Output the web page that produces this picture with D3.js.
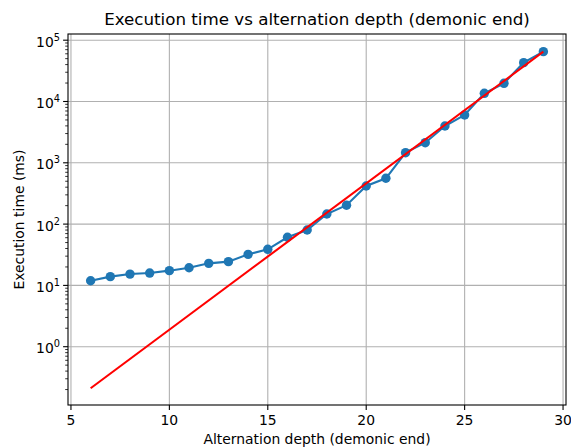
<!DOCTYPE html>
<html><head><meta charset="utf-8">
<script src="https://cdn.jsdelivr.net/npm/d3@7"></script>
<style>body{margin:0;background:#fff}svg{display:block}text{font-family:"DejaVu Sans",sans-serif;fill:#000}</style>
</head><body><svg id="c" width="571" height="448"></svg>
<script>
const depths = [6,7,8,9,10,11,12,13,14,15,16,17,18,19,20,21,22,23,24,25,26,27,28,29];
const times = [11.9,13.9,15.3,15.9,17.4,19.4,22.9,24.4,32.1,38.8,60.9,80.1,146,203,419,559,1462,2128,3980,6025,13600,19800,43000,65000];
const fitX = [6,29];
const fitY = [0.21,65000];
const xTicks = [5,10,15,20,25,30];
const yTickExps = [0,1,2,3,4,5];
const title = "Execution time vs alternation depth (demonic end)";
const xLabel = "Alternation depth (demonic end)";
const yLabel = "Execution time (ms)";

const svg = d3.select("#c");
const L=68, R=566, T=34, B=405;
const x = d3.scaleLinear().domain([4.85,30.15]).range([L,R]);
const y = d3.scaleLog().domain([Math.pow(10,-0.951),Math.pow(10,5.101)]).range([B,T]);

const g = svg.append("g");
// grid
g.selectAll(".gx").data(xTicks).join("line")
  .attr("x1",d=>x(d)).attr("x2",d=>x(d)).attr("y1",T).attr("y2",B)
  .attr("stroke","#b0b0b0").attr("stroke-width",1.1);
g.selectAll(".gy").data(yTickExps).join("line")
  .attr("y1",d=>y(Math.pow(10,d))).attr("y2",d=>y(Math.pow(10,d))).attr("x1",L).attr("x2",R)
  .attr("stroke","#b0b0b0").attr("stroke-width",1.1);

// data line
const line = d3.line().x(d=>x(d[0])).y(d=>y(d[1]));
const pts = depths.map((d,i)=>[d,times[i]]);
g.append("path").datum(pts).attr("d",line).attr("fill","none").attr("stroke","#1f77b4").attr("stroke-width",2.08);
g.selectAll(".pt").data(pts).join("circle").attr("cx",d=>x(d[0])).attr("cy",d=>y(d[1])).attr("r",4.7).attr("fill","#1f77b4");
// fit line
g.append("path").datum(fitX.map((d,i)=>[d,fitY[i]])).attr("d",line).attr("fill","none").attr("stroke","#ff0000").attr("stroke-width",2.08);

// spines
g.append("rect").attr("x",L).attr("y",T).attr("width",R-L).attr("height",B-T).attr("fill","none").attr("stroke","#000").attr("stroke-width",1.1);

// x axis ticks
xTicks.forEach(t=>{
  g.append("line").attr("x1",x(t)).attr("x2",x(t)).attr("y1",B).attr("y2",B+4.9).attr("stroke","#000").attr("stroke-width",1.1);
  g.append("text").attr("x",x(t)).attr("y",B+20).attr("text-anchor","middle").attr("font-size",13.9).text(t);
});
// y ticks major
yTickExps.forEach(e=>{
  const yy=y(Math.pow(10,e));
  g.append("line").attr("x1",L-4.9).attr("x2",L).attr("y1",yy).attr("y2",yy).attr("stroke","#000").attr("stroke-width",1.1);
  const tx=g.append("text").attr("x",L-8).attr("y",yy+6.5).attr("text-anchor","end").attr("font-size",13.9);
  tx.append("tspan").text("10");
  tx.append("tspan").attr("font-size",9.8).attr("dy",-6).text(e);
});
// minor ticks
const [d0,d1]=y.domain();
for(let e=-1;e<=5;e++){for(let m=2;m<=9;m++){const v=m*Math.pow(10,e); if(v>=d0&&v<=d1){const yy=y(v);
  g.append("line").attr("x1",L-2.8).attr("x2",L).attr("y1",yy).attr("y2",yy).attr("stroke","#000").attr("stroke-width",0.8);}}}

// labels
svg.append("text").attr("x",(L+R)/2).attr("y",25).attr("text-anchor","middle").attr("font-size",16.7).text(title);
svg.append("text").attr("x",(L+R)/2).attr("y",444).attr("text-anchor","middle").attr("font-size",13.9).text(xLabel);
svg.append("text").attr("transform",`translate(24,${(T+B)/2}) rotate(-90)`).attr("text-anchor","middle").attr("font-size",13.9).text(yLabel);
</script></body></html>
